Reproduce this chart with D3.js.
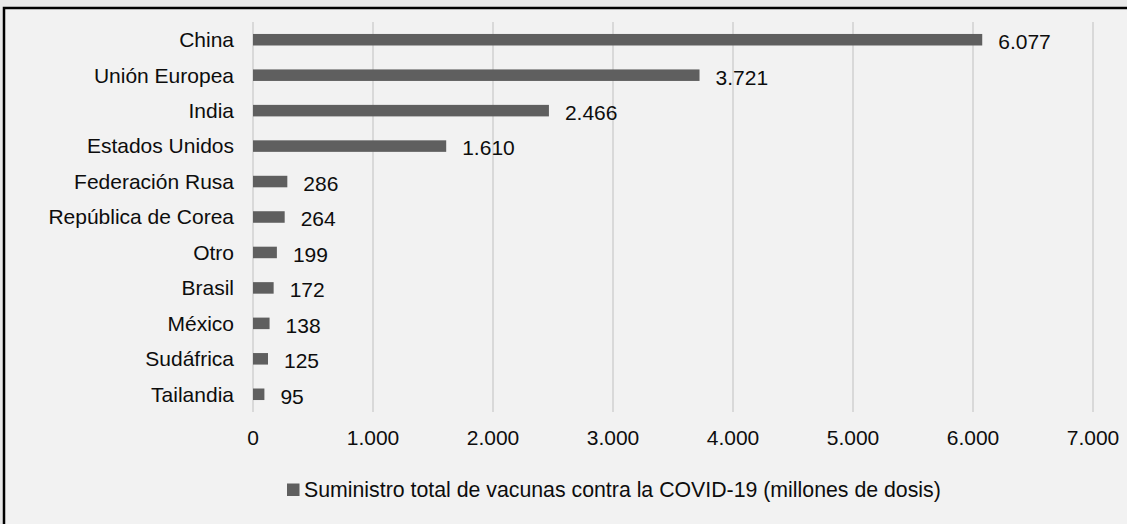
<!DOCTYPE html>
<html><head><meta charset="utf-8">
<script src="https://cdn.jsdelivr.net/npm/d3@7"></script>
<style>
html,body{margin:0;padding:0;background:#e8e8e8;}
svg{display:block;}
text{font-family:"Liberation Sans",Arial,sans-serif;fill:#0d0d0d;}
</style></head>
<body>
<svg id="c" width="1127" height="524"></svg>
<script>
const categories = ["China","Unión Europea","India","Estados Unidos","Federación Rusa","República de Corea","Otro","Brasil","México","Sudáfrica","Tailandia"];
const values = [6077,3721,2466,1610,286,264,199,172,138,125,95];
const valueLabels = ["6.077","3.721","2.466","1.610","286","264","199","172","138","125","95"];
const tickValues = [0,1000,2000,3000,4000,5000,6000,7000];
const tickLabels = ["0","1.000","2.000","3.000","4.000","5.000","6.000","7.000"];
const legendLabel = "Suministro total de vacunas contra la COVID-19 (millones de dosis)";

const svg = d3.select("#c");
// chart box
svg.append("rect").attr("x",4).attr("y",8).attr("width",1130).attr("height",520)
  .attr("fill","#f2f2f2").attr("stroke","#000").attr("stroke-width",2.5);

const x = d3.scaleLinear().domain([0,7000]).range([253,1093]);
const y = d3.scaleBand().domain(categories).range([22,412]).paddingInner(0.675).paddingOuter(0.3375);

// gridlines
svg.append("g").selectAll("line").data(tickValues).join("line")
  .attr("x1",d=>x(d)).attr("x2",d=>x(d)).attr("y1",22).attr("y2",412)
  .attr("stroke","#d9d9d9").attr("stroke-width",2);

// x tick labels
svg.append("g").selectAll("text").data(tickValues).join("text")
  .attr("x",d=>x(d)).attr("y",445).attr("text-anchor","middle")
  .attr("font-size",21).text((d,i)=>tickLabels[i]);

// bars
svg.append("g").selectAll("rect").data(values).join("rect")
  .attr("x",x(0)).attr("y",(d,i)=>y(categories[i]))
  .attr("width",d=>x(d)-x(0)).attr("height",y.bandwidth())
  .attr("fill","#5f5f5f");

// category labels
svg.append("g").selectAll("text").data(categories).join("text")
  .attr("x",234).attr("y",d=>y(d)+y.bandwidth()/2).attr("dy","0.35em")
  .attr("text-anchor","end").attr("font-size",21).text(d=>d);

// value labels
svg.append("g").selectAll("text").data(values).join("text")
  .attr("x",d=>x(d)+16).attr("y",(d,i)=>y(categories[i])+y.bandwidth()/2+2).attr("dy","0.35em")
  .attr("font-size",21).text((d,i)=>valueLabels[i]);

// legend
svg.append("rect").attr("x",287).attr("y",483.5).attr("width",12.5).attr("height",12.5).attr("fill","#5f5f5f");
svg.append("text").attr("x",304).attr("y",497).attr("font-size",21.3).text(legendLabel);
</script>
</body></html>
